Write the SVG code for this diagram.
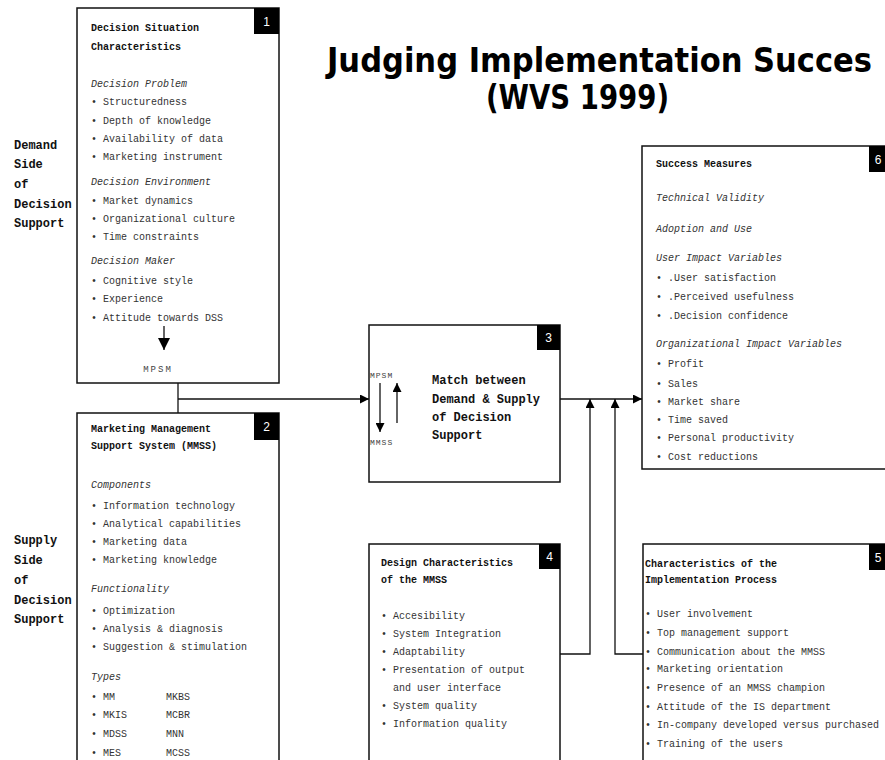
<svg xmlns="http://www.w3.org/2000/svg" width="885" height="760" viewBox="0 0 885 760">
<style>
.box{fill:#fff;stroke:#111;stroke-width:1.5}
.badge{fill:#000}
.bn{font-family:"Liberation Sans",Arial,sans-serif;font-size:12px;fill:#fff;text-anchor:middle}
.h{font-family:"Liberation Mono","DejaVu Sans Mono",monospace;font-weight:bold;font-size:10px;fill:#111}
.i{font-family:"Liberation Mono","DejaVu Sans Mono",monospace;font-style:italic;font-size:10px;fill:#333}
.t{font-family:"Liberation Mono","DejaVu Sans Mono",monospace;font-size:10px;fill:#333}
.side{font-family:"Liberation Mono","DejaVu Sans Mono",monospace;font-weight:bold;font-size:12px;fill:#111}
.m{font-family:"Liberation Mono","DejaVu Sans Mono",monospace;font-size:8px;fill:#444;letter-spacing:1px}
.title{font-family:"DejaVu Sans Condensed","DejaVu Sans",sans-serif;font-weight:bold;font-size:33px;fill:#000}
.ln{fill:none;stroke:#111;stroke-width:1.3}
</style>
<defs>
<marker id="arr" viewBox="0 0 10 10" refX="10" refY="5" markerWidth="9" markerHeight="9" markerUnits="userSpaceOnUse" orient="auto"><path d="M0,0 L10,5 L0,10 z" fill="#000"/></marker>
<marker id="arrL" viewBox="0 0 10 10" refX="10" refY="5" markerWidth="12" markerHeight="12" markerUnits="userSpaceOnUse" orient="auto"><path d="M0,0 L10,5 L0,10 z" fill="#000"/></marker>
</defs>
<rect width="885" height="760" fill="#fff"/>

<g id="title">
<text class="title" x="327" y="72" textLength="545" lengthAdjust="spacingAndGlyphs">Judging Implementation Succes</text>
<text class="title" x="486" y="109" textLength="183" lengthAdjust="spacingAndGlyphs">(WVS 1999)</text>
</g>

<g id="side-labels">
<text class="side" x="14" y="149">Demand</text>
<text class="side" x="14" y="168">Side</text>
<text class="side" x="14" y="188">of</text>
<text class="side" x="14" y="208">Decision</text>
<text class="side" x="14" y="227">Support</text>
<text class="side" x="14" y="544">Supply</text>
<text class="side" x="14" y="564">Side</text>
<text class="side" x="14" y="584">of</text>
<text class="side" x="14" y="604">Decision</text>
<text class="side" x="14" y="623">Support</text>
</g>

<g id="connectors">
<path class="ln" d="M178,383 V413"/>
<path class="ln" d="M178,399 H369" marker-end="url(#arr)"/>
<path class="ln" d="M560,399 H642" marker-end="url(#arr)"/>
<path class="ln" d="M560,654 H590 V399" marker-end="url(#arr)"/>
<path class="ln" d="M643,654 H615 V399" marker-end="url(#arr)"/>
</g>

<g id="node1">
<rect class="box" x="77" y="8" width="202" height="375"/>
<rect class="badge" x="254" y="8" width="25" height="26"/>
<text class="bn" x="266.5" y="26">1</text>
<text class="h" x="91" y="31">Decision Situation</text>
<text class="h" x="91" y="50">Characteristics</text>
<text class="i" x="91" y="87">Decision Problem</text>
<text class="t" x="91" y="105">• Structuredness</text>
<text class="t" x="91" y="124">• Depth of knowledge</text>
<text class="t" x="91" y="142">• Availability of data</text>
<text class="t" x="91" y="160">• Marketing instrument</text>
<text class="i" x="91" y="185">Decision Environment</text>
<text class="t" x="91" y="204">• Market dynamics</text>
<text class="t" x="91" y="222">• Organizational culture</text>
<text class="t" x="91" y="240">• Time constraints</text>
<text class="i" x="91" y="264">Decision Maker</text>
<text class="t" x="91" y="284">• Cognitive style</text>
<text class="t" x="91" y="302">• Experience</text>
<text class="t" x="91" y="321">• Attitude towards DSS</text>
<path class="ln" d="M164,326 V350" marker-end="url(#arrL)"/>
<text class="m" x="158" y="372" text-anchor="middle" style="font-size:9px;letter-spacing:2px">MPSM</text>
</g>

<g id="node2">
<rect class="box" x="77" y="413" width="202" height="360"/>
<rect class="badge" x="254" y="413" width="25" height="27"/>
<text class="bn" x="266.5" y="431">2</text>
<text class="h" x="91" y="432">Marketing Management</text>
<text class="h" x="91" y="449">Support System (MMSS)</text>
<text class="i" x="91" y="488">Components</text>
<text class="t" x="91" y="509">• Information technology</text>
<text class="t" x="91" y="527">• Analytical capabilities</text>
<text class="t" x="91" y="545">• Marketing data</text>
<text class="t" x="91" y="563">• Marketing knowledge</text>
<text class="i" x="91" y="592">Functionality</text>
<text class="t" x="91" y="614">• Optimization</text>
<text class="t" x="91" y="632">• Analysis &amp; diagnosis</text>
<text class="t" x="91" y="650">• Suggestion &amp; stimulation</text>
<text class="i" x="91" y="680">Types</text>
<text class="t" x="91" y="700">• MM</text>
<text class="t" x="166" y="700">MKBS</text>
<text class="t" x="91" y="718">• MKIS</text>
<text class="t" x="166" y="718">MCBR</text>
<text class="t" x="91" y="737">• MDSS</text>
<text class="t" x="166" y="737">MNN</text>
<text class="t" x="91" y="756">• MES</text>
<text class="t" x="166" y="756">MCSS</text>
</g>

<g id="node3">
<rect class="box" x="369" y="325" width="191" height="157"/>
<rect class="badge" x="537" y="325" width="23" height="25"/>
<text class="bn" x="548.5" y="342">3</text>
<text class="m" x="370" y="378">MPSM</text>
<path class="ln" d="M380,383 V432" marker-end="url(#arr)"/>
<path class="ln" d="M397,423 V383" marker-end="url(#arr)"/>
<text class="m" x="370" y="445">MMSS</text>
<text class="side" x="432" y="384">Match between</text>
<text class="side" x="432" y="403">Demand &amp; Supply</text>
<text class="side" x="432" y="421">of Decision</text>
<text class="side" x="432" y="439">Support</text>
</g>

<g id="node6">
<rect class="box" x="642" y="146" width="250" height="323"/>
<rect class="badge" x="869" y="146" width="23" height="26"/>
<text class="bn" x="878" y="164">6</text>
<text class="h" x="656" y="167">Success Measures</text>
<text class="i" x="656" y="201">Technical Validity</text>
<text class="i" x="656" y="232">Adoption and Use</text>
<text class="i" x="656" y="261">User Impact Variables</text>
<text class="t" x="656" y="281">• .User satisfaction</text>
<text class="t" x="656" y="300">• .Perceived usefulness</text>
<text class="t" x="656" y="319">• .Decision confidence</text>
<text class="i" x="656" y="347">Organizational Impact Variables</text>
<text class="t" x="656" y="367">• Profit</text>
<text class="t" x="656" y="387">• Sales</text>
<text class="t" x="656" y="405">• Market share</text>
<text class="t" x="656" y="423">• Time saved</text>
<text class="t" x="656" y="441">• Personal productivity</text>
<text class="t" x="656" y="460">• Cost reductions</text>
</g>

<g id="node4">
<rect class="box" x="369" y="544" width="191" height="230"/>
<rect class="badge" x="539" y="544" width="21" height="25"/>
<text class="bn" x="549.5" y="561">4</text>
<text class="h" x="381" y="566">Design Characteristics</text>
<text class="h" x="381" y="583">of the MMSS</text>
<text class="t" x="381" y="619">• Accesibility</text>
<text class="t" x="381" y="637">• System Integration</text>
<text class="t" x="381" y="655">• Adaptability</text>
<text class="t" x="381" y="673">• Presentation of output</text>
<text class="t" x="393" y="691">and user interface</text>
<text class="t" x="381" y="709">• System quality</text>
<text class="t" x="381" y="727">• Information quality</text>
</g>

<g id="node5">
<rect class="box" x="643" y="544" width="249" height="230"/>
<rect class="badge" x="869" y="544" width="23" height="26"/>
<text class="bn" x="878" y="562">5</text>
<text class="h" x="645" y="567">Characteristics of the</text>
<text class="h" x="645" y="583">Implementation Process</text>
<text class="t" x="645" y="617">• User involvement</text>
<text class="t" x="645" y="636">• Top management support</text>
<text class="t" x="645" y="655">• Communication about the MMSS</text>
<text class="t" x="645" y="672">• Marketing orientation</text>
<text class="t" x="645" y="691">• Presence of an MMSS champion</text>
<text class="t" x="645" y="710">• Attitude of the IS department</text>
<text class="t" x="645" y="728">• In-company developed versus purchased</text>
<text class="t" x="645" y="747">• Training of the users</text>
</g>
</svg>
